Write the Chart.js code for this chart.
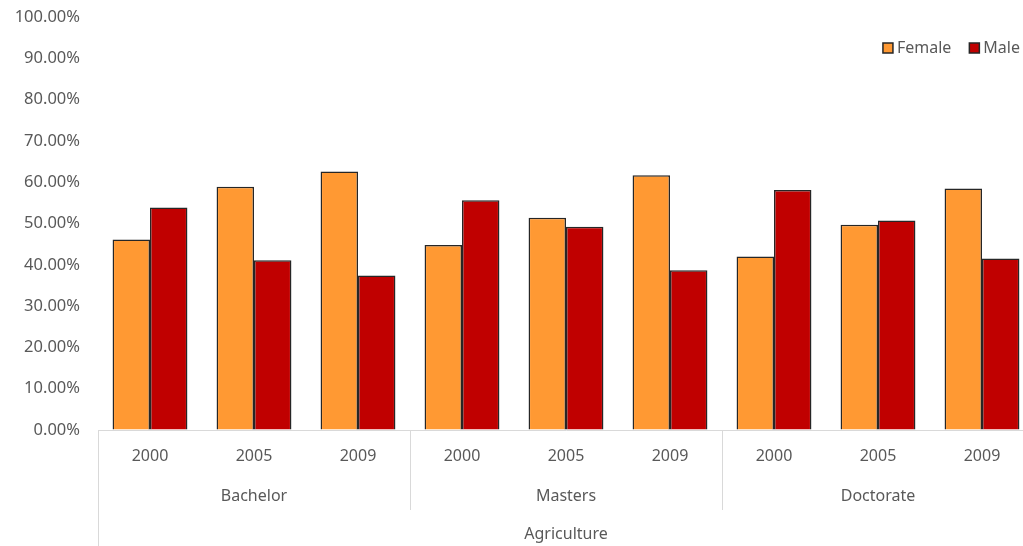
<!DOCTYPE html>
<html>
<head>
<meta charset="utf-8">
<script src="https://cdn.jsdelivr.net/npm/chart.js@4"></script>
<style>
  html, body { margin: 0; padding: 0; background: #fff; overflow: hidden; }
  #wrap { position: relative; width: 1040px; height: 546px; }
</style>
</head>
<body>
<div id="wrap"><canvas id="genderChart"></canvas></div>
<script>
// Chart data
const years = ["2000", "2005", "2009", "2000", "2005", "2009", "2000", "2005", "2009"];
const degreeLabels = ["", "Bachelor", "", "", "Masters", "", "", "Doctorate", ""];
const fieldLabels = ["", "", "", "", "Agriculture", "", "", "", ""];
const female = [0.461, 0.589, 0.626, 0.448, 0.514, 0.617, 0.420, 0.497, 0.585];
const male = [0.539, 0.411, 0.374, 0.556, 0.492, 0.387, 0.581, 0.507, 0.415];

const TEXT_COLOR = "#595959";
const LINE_COLOR = "#d9d9d9";
const FONT = { family: "'Noto Sans', sans-serif", size: 16 };

// Separators between the degree groups, below the axis
const groupLines = {
  id: "groupLines",
  afterDraw(chart) {
    const x = chart.scales.x;
    const x2 = chart.scales.x2;
    const ctx = chart.ctx;
    const half = (x.getPixelForValue(1) - x.getPixelForValue(0)) / 2;
    ctx.save();
    ctx.strokeStyle = LINE_COLOR;
    ctx.lineWidth = 1;
    [0, 3, 6].forEach(i => {
      const px = Math.round(x.getPixelForValue(i) - half) + 0.5;
      const bottom = i === 0 ? chart.height : x2.bottom;
      ctx.beginPath();
      ctx.moveTo(px, chart.chartArea.bottom);
      ctx.lineTo(px, bottom);
      ctx.stroke();
    });
    ctx.restore();
  }
};

// Legend floating inside the plot, top right
const floatLegend = {
  id: "floatLegend",
  afterDraw(chart) {
    const ctx = chart.ctx;
    const area = chart.chartArea;
    const sets = chart.data.datasets;
    ctx.save();
    ctx.font = FONT.size + "px " + FONT.family;
    ctx.textBaseline = "middle";
    const box = 10, gapText = 4, gapItem = 18;
    const widths = sets.map(d => box + gapText + ctx.measureText(d.label).width);
    let x = area.right - 14 - widths.reduce((a, b) => a + b, 0) - gapItem * (sets.length - 1);
    const y = area.top + 31;
    sets.forEach((d, i) => {
      ctx.fillStyle = d.backgroundColor;
      ctx.fillRect(x, y - box / 2, box, box);
      ctx.strokeStyle = d.borderColor;
      ctx.lineWidth = 1.5;
      ctx.strokeRect(x, y - box / 2, box, box);
      ctx.fillStyle = TEXT_COLOR;
      ctx.fillText(d.label, x + box + gapText, y);
      x += widths[i] + gapItem;
    });
    ctx.restore();
  }
};

function bottomAxis(labels, h, pad, showBorder) {
  return {
    type: "category",
    position: "bottom",
    labels: labels,
    offset: true,
    grid: { display: false, drawTicks: false },
    border: { display: showBorder, color: LINE_COLOR, width: 1 },
    ticks: {
      color: TEXT_COLOR,
      font: FONT,
      padding: pad,
      autoSkip: false,
      maxRotation: 0
    },
    afterFit: axis => { axis.height = h; }
  };
}

new Chart(document.getElementById("genderChart"), {
  type: "bar",
  data: {
    labels: years,
    datasets: [
      {
        label: "Female",
        data: female,
        backgroundColor: "#FF9933",
        borderColor: "#262626",
        borderWidth: 1.5
      },
      {
        label: "Male",
        data: male,
        backgroundColor: "#C00000",
        borderColor: "#262626",
        borderWidth: 1.5
      }
    ]
  },
  options: {
    responsive: true,
    maintainAspectRatio: false,
    animation: false,
    layout: { padding: { top: 17, right: 6, left: 0, bottom: 0 } },
    datasets: {
      bar: { categoryPercentage: 0.72, barPercentage: 1.0 }
    },
    plugins: {
      legend: { display: false },
      tooltip: { enabled: false }
    },
    scales: {
      x: bottomAxis(years, 40, 17, true),
      x2: bottomAxis(degreeLabels, 40, 17, false),
      x3: bottomAxis(fieldLabels, 36, 15, false),
      y: {
        min: 0,
        max: 1,
        grid: {
          drawOnChartArea: false,
          drawTicks: true,
          tickLength: 18,
          tickColor: "rgba(0,0,0,0)"
        },
        border: { display: false },
        ticks: {
          stepSize: 0.1,
          color: TEXT_COLOR,
          font: { family: FONT.family, size: 16.5 },
          padding: 0,
          callback: v => (v * 100).toFixed(2) + "%"
        },
        afterFit: axis => { axis.width = 98; }
      }
    }
  },
  plugins: [groupLines, floatLegend]
});
</script>
</body>
</html>
